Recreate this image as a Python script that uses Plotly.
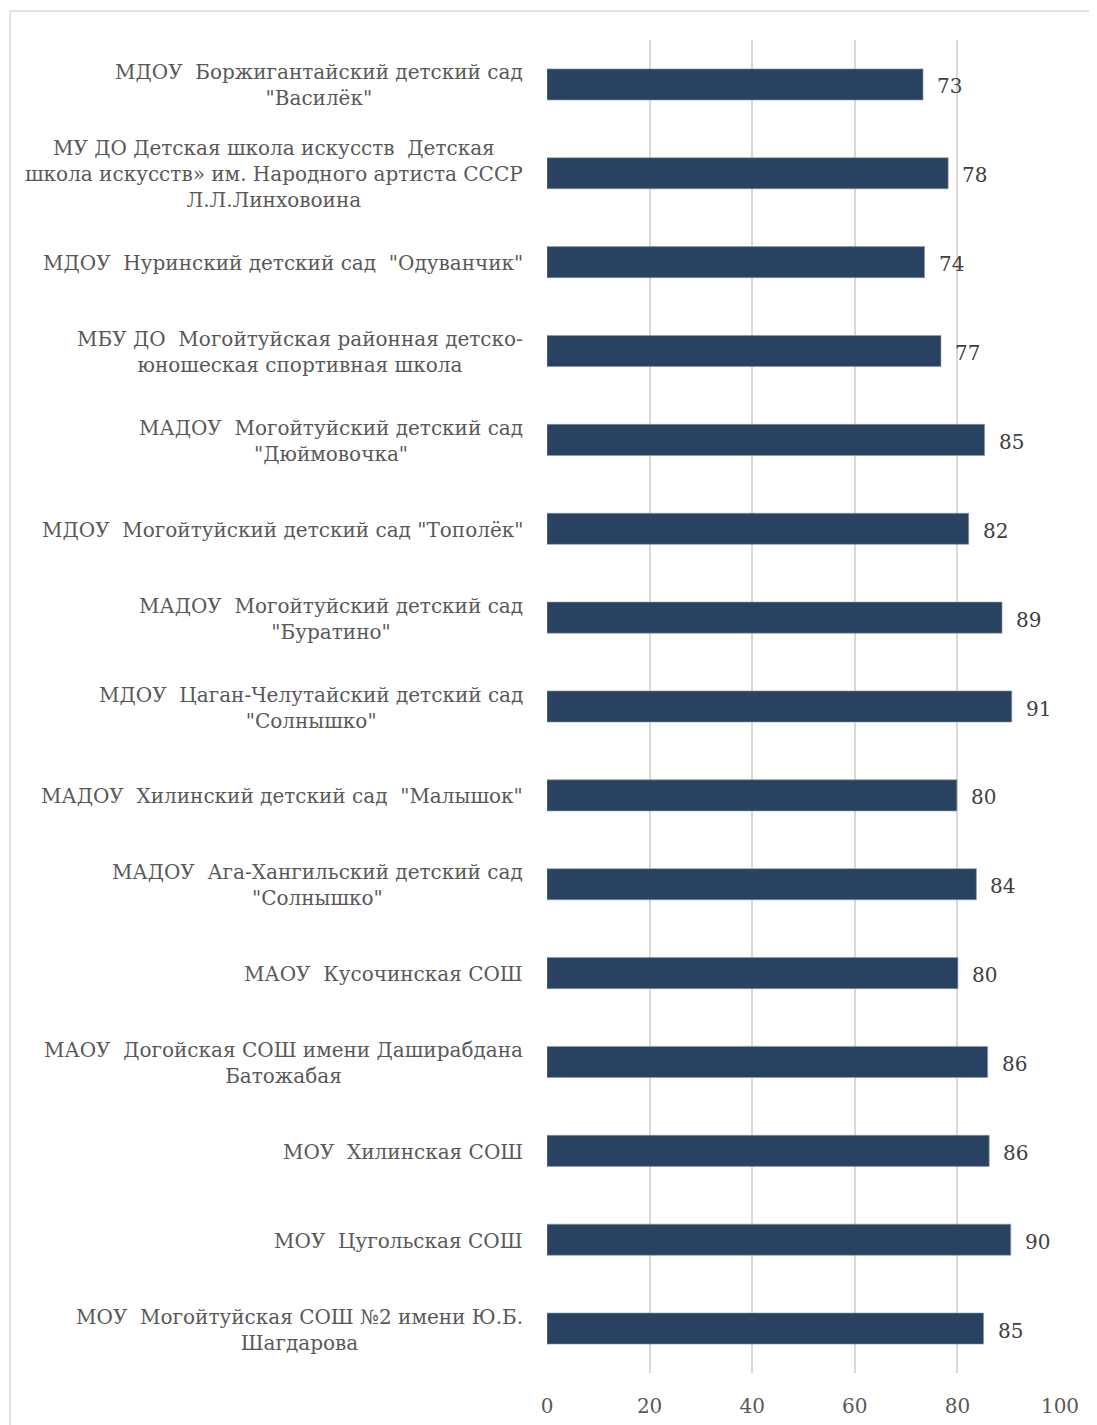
import plotly.graph_objects as go

categories = [
    'МДОУ  Боржигантайский детский сад<br>"Василёк"',
    'МУ ДО Детская школа искусств  Детская<br>школа искусств» им. Народного артиста СССР<br>Л.Л.Линховоина',
    'МДОУ  Нуринский детский сад  "Одуванчик"',
    'МБУ ДО  Могойтуйская районная детско-<br>юношеская спортивная школа',
    'МАДОУ  Могойтуйский детский сад<br>"Дюймовочка"',
    'МДОУ  Могойтуйский детский сад "Тополёк"',
    'МАДОУ  Могойтуйский детский сад<br>"Буратино"',
    'МДОУ  Цаган-Челутайский детский сад<br>"Солнышко"',
    'МАДОУ  Хилинский детский сад  "Малышок"',
    'МАДОУ  Ага-Хангильский детский сад<br>"Солнышко"',
    'МАОУ  Кусочинская СОШ',
    'МАОУ  Догойская СОШ имени Даширабдана<br>Батожабая',
    'МОУ  Хилинская СОШ',
    'МОУ  Цугольская СОШ',
    'МОУ  Могойтуйская СОШ №2 имени Ю.Б.<br>Шагдарова',
]
values = [73.3, 78.2, 73.6, 76.8, 85.3, 82.2, 88.7, 90.6, 79.9, 83.7, 80.1, 85.9, 86.2, 90.4, 85.1]
x_ticks = [0, 20, 40, 60, 80, 100]

FONT = "DejaVu Serif"
LABEL_COLOR = "#595959"
BAR_COLOR = "#294262"

fig = go.Figure()
fig.add_trace(go.Bar(
    y=categories, x=values, orientation="h",
    marker=dict(color=BAR_COLOR, line=dict(color="#8a9bb0", width=0.6)),
    hoverinfo="skip",
))

annotations = []
for c, v in zip(categories, values):
    annotations.append(dict(
        x=0, xref="paper", y=c, yref="y", text=c, showarrow=False,
        xanchor="right", yanchor="middle", align="center", xshift=-22, yshift=-1,
        font=dict(family=FONT, size=20, color=LABEL_COLOR),
    ))
    annotations.append(dict(
        x=v, xref="x", y=c, yref="y", text=f"{round(v)}", showarrow=False,
        xanchor="left", yanchor="middle", xshift=12, yshift=-2,
        font=dict(family=FONT, size=20, color="#404040"),
    ))

fig.update_layout(
    width=1089, height=1417,
    margin=dict(l=539, r=37, t=32, b=52, autoexpand=False),
    paper_bgcolor="white", plot_bgcolor="white",
    bargap=0.65, showlegend=False,
    font=dict(family=FONT, size=20, color=LABEL_COLOR),
    annotations=annotations,
    xaxis=dict(range=[0, 100], tickvals=x_ticks, showgrid=True, gridcolor="#D9D9D9", gridwidth=1.5,
               zeroline=False, showline=False, ticks="", ticklabelstandoff=19, automargin=False,
               tickfont=dict(family=FONT, size=20, color=LABEL_COLOR), fixedrange=True),
    yaxis=dict(autorange="reversed", showticklabels=False, showgrid=False, zeroline=False,
               showline=False, ticks="", fixedrange=True, automargin=False),
    shapes=[dict(type="rect", xref="paper", yref="paper", x0=-1.0468, x1=1.2, y0=-0.2, y1=1.0218,
                 line=dict(color="#D9D9D9", width=1.5), fillcolor="rgba(0,0,0,0)", layer="below")],
)

fig.write_html("out.html")
